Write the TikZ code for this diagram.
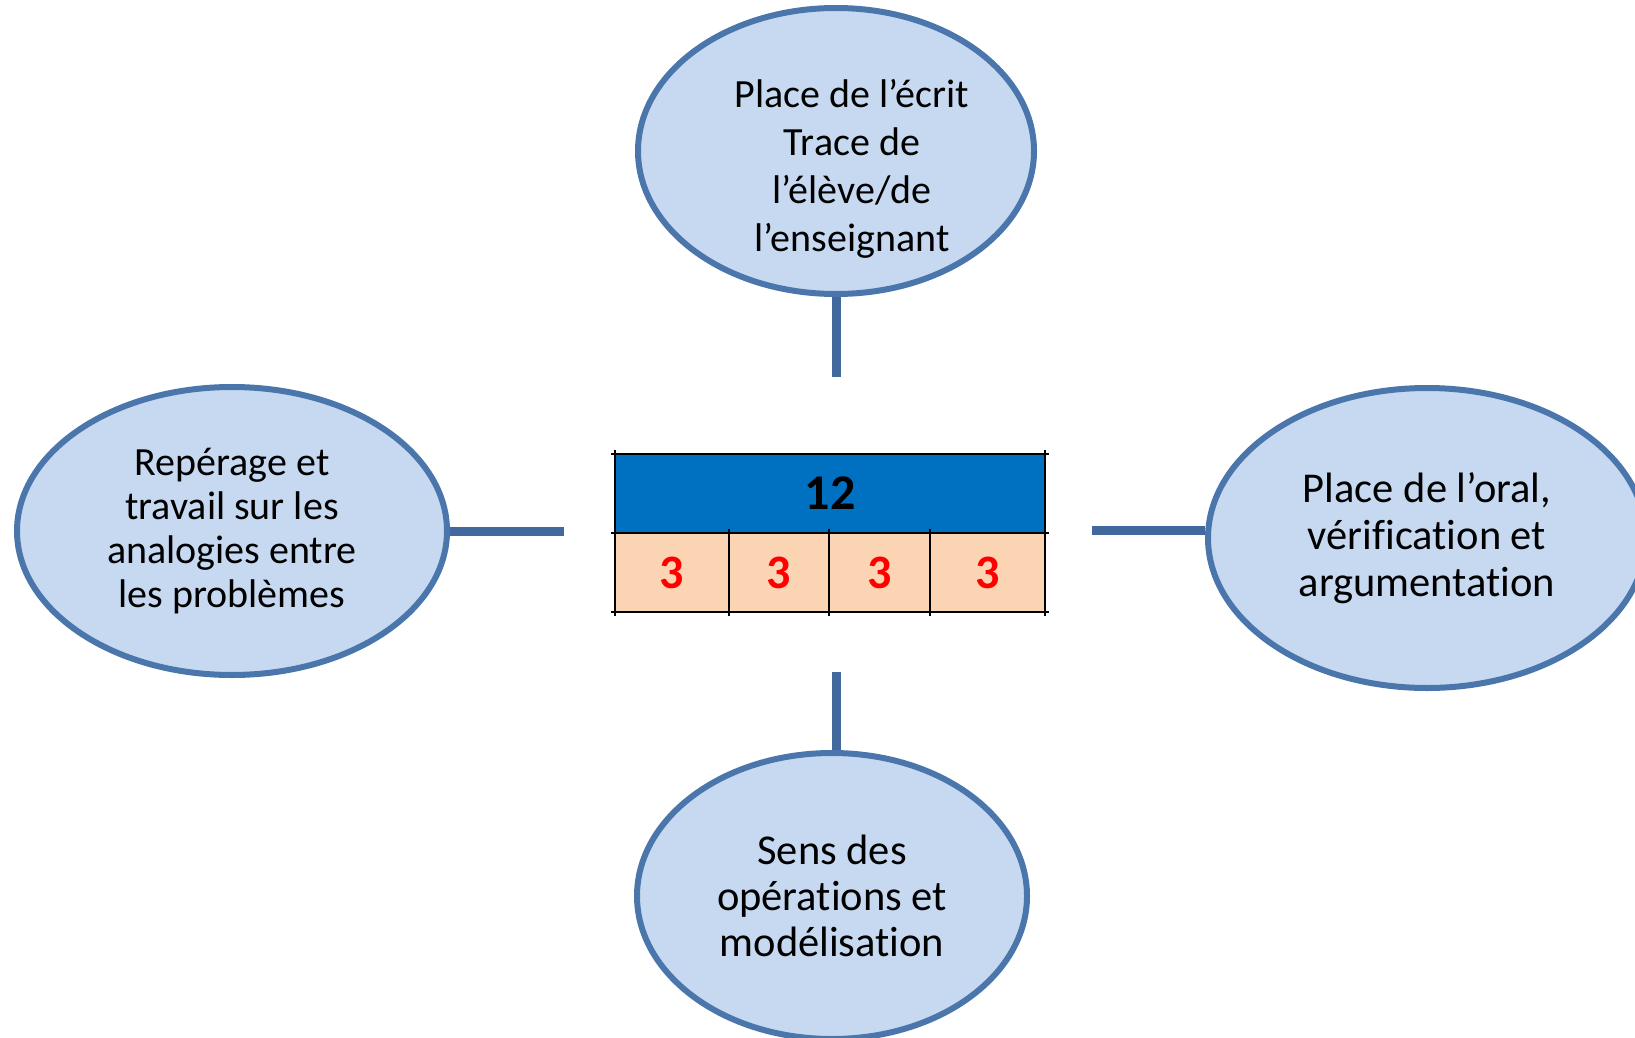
\documentclass[tikz,border=0pt]{standalone}
\usepackage{fontspec}
\setmainfont{Carlito}[Ligatures={NoCommon}]
\usepackage{tikz}
\usetikzlibrary{shapes.geometric,positioning,calc}
\definecolor{bubblefill}{HTML}{C6D9F1}
\definecolor{bubbleline}{HTML}{4A76AC}
\definecolor{stemblue}{HTML}{41699E}
\definecolor{barblue}{HTML}{0070C0}
\definecolor{cellpeach}{HTML}{FBD4B4}
\definecolor{digitred}{HTML}{FF0000}

\begin{document}
\begin{tikzpicture}[
    x=1pt, y=-1pt,
    bubble/.style={ellipse, draw=bubbleline, line width=6pt, fill=bubblefill,
                   inner sep=0pt, align=center},
    stem/.style={draw=stemblue, line width=9pt},
    total/.style={draw=black, line width=1.5pt, fill=barblue, inner sep=0pt,
                  outer sep=0pt, minimum height=79pt,
                  font=\fontsize{50}{50}\selectfont\bfseries},
    cell/.style={draw=black, line width=1.5pt, fill=cellpeach, inner sep=0pt,
                 outer sep=0pt, minimum height=79pt, text=digitred,
                 font=\fontsize{48}{48}\selectfont\bfseries},
    tick/.style={draw=black, line width=1.5pt, shorten <=-4pt, shorten >=-4pt}
]
\useasboundingbox (0,0) rectangle (1635,1038);
\clip (0,0) rectangle (1635,1038);

% --- bubbles ---
\node[bubble, minimum width=396pt, minimum height=286pt,
      label={[align=center, font=\fontsize{40}{48}\selectfont,
              xshift=16pt, yshift=-18pt]center:Place de l’écrit\\Trace de\\l’élève/de\\l’enseignant}]
      (ecrit) at (836,151) {};

\node[bubble, minimum width=430pt, minimum height=288pt,
      font=\fontsize{40}{44}\selectfont] (analogie) at (232,531)
  {Repérage et\\travail sur les\\analogies entre\\les problèmes};

\node[bubble, minimum width=438pt, minimum height=300pt,
      font=\fontsize{42.5}{47}\selectfont] (oral) at (1427,538)
  {Place de l’oral,\\vérification et\\argumentation};

\node[bubble, minimum width=390pt, minimum height=286pt,
      font=\fontsize{42.5}{46}\selectfont] (sens) at (832,896)
  {Sens des\\opérations et\\modélisation};

% --- bar model ---
\node[total, minimum width=430pt] (tout) at (830,493.5) {12};
\node[cell, minimum width=114pt] (c1) at (672,572.5) {3};
\node[cell, minimum width=100pt, right=0pt of c1] (c2) {3};
\node[cell, minimum width=101pt, right=0pt of c2] (c3) {3};
\node[cell, minimum width=115pt, right=0pt of c3] (c4) {3};

\draw[tick] (tout.north west) -- (tout.north east);
\draw[tick] (c1.north west) -- (c4.north east);
\draw[tick] (c1.south west) -- (c4.south east);
\draw[tick] (tout.north west) -- (c1.south west);
\draw[tick] (tout.north east) -- (c4.south east);
\foreach \c in {c1,c2,c3}
  \draw[tick] (\c.north east) -- (\c.south east);

% --- stems ---
\coordinate (ecritend) at (836,377);
\coordinate (analogieend) at (564,531);
\coordinate (oralend) at (1092,530);
\coordinate (sensend) at (836,672);

\draw[stem] (ecrit.south) -- (ecritend);
\draw[stem] (analogie.east) -- (analogieend);
\draw[stem] (oralend) -- (oralend -| oral.west);
\draw[stem] (sensend) -- (sensend |- sens.north);

\end{tikzpicture}
\end{document}
